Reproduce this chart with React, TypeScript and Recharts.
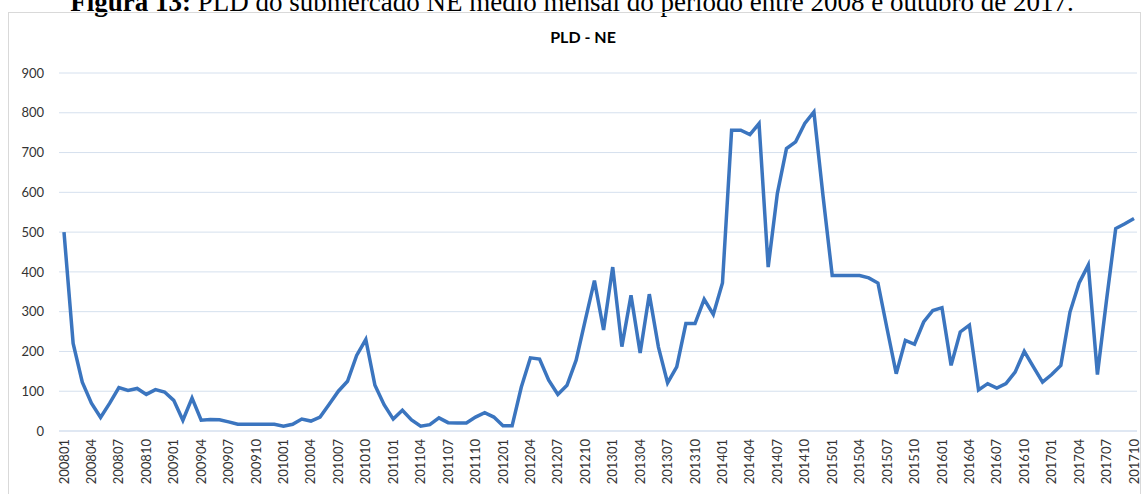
import React from "react";
import { LineChart, Line, XAxis, YAxis, CartesianGrid } from "recharts";

// meses de 200801 até 201710
const years = [2008, 2009, 2010, 2011, 2012, 2013, 2014, 2015, 2016, 2017];
const months = ["01", "02", "03", "04", "05", "06", "07", "08", "09", "10", "11", "12"];

// PLD NE médio mensal (R$/MWh)
const pldNE = [
    500, 220, 123, 70, 34, 70, 109, 102, 107, 92, 104, 98,
    77, 27, 83, 27, 29, 28, 23, 17, 17, 17, 17, 17,
    12, 17, 30, 25, 35, 67, 100, 125, 190, 230, 115, 66,
    30, 52, 28, 12, 16, 33, 21, 20, 20, 35, 46, 35,
    13, 13, 110, 184, 181, 128, 92, 115, 178, 279, 378, 254,
    412, 212, 341, 196, 344, 211, 121, 161, 270, 270, 331, 293,
    372, 756, 756, 745, 773, 412, 597, 710, 727, 773, 802, 590,
    391, 391, 391, 391, 385, 372, 257, 144, 228, 218, 274, 303,
    310, 165, 249, 266, 103, 119, 108, 119, 148, 200, 161, 123,
    142, 165, 299, 372, 417, 142, 330, 509, 521, 534,
];

const yTicks = [0, 100, 200, 300, 400, 500, 600, 700, 800, 900];

const categories: string[] = [];
years.forEach((y) => months.forEach((m) => categories.push(`${y}${m}`)));

const data = pldNE.map((value, i) => ({ mes: categories[i], value }));

const FONT = "Lato, 'Open Sans', sans-serif";

const MonthTick = ({ x, y, payload }: any) => (
    <g transform={`translate(${x},${y})`}>
        <text
            transform="rotate(-90)"
            textAnchor="end"
            dy="0.35em"
            fill="#333"
            fontSize={13}
            fontFamily={FONT}
        >
            {payload.value}
        </text>
    </g>
);

const App = () => {
    return (
        <div
            style={{
                position: "absolute",
                left: 0,
                top: 0,
                width: 1144,
                height: 494,
                overflow: "hidden",
                background: "#fff",
            }}
        >
            {/* legenda da figura, cortada no topo como no original */}
            <div
                style={{
                    position: "absolute",
                    top: -11,
                    left: 0,
                    width: 1144,
                    textAlign: "center",
                    fontFamily: "'Liberation Serif', serif",
                    fontSize: 27,
                    lineHeight: "27px",
                    whiteSpace: "nowrap",
                    color: "#000",
                }}
            >
                <b>Figura 13:</b> PLD do submercado NE médio mensal do período entre 2008 e outubro de 2017.
            </div>
            <div
                style={{
                    position: "absolute",
                    left: 8,
                    top: 12,
                    width: 1131,
                    height: 490,
                    border: "1px solid #d9d9d9",
                }}
            />
            <div
                style={{
                    position: "absolute",
                    left: 483,
                    top: 27,
                    width: 200,
                    textAlign: "center",
                    fontFamily: FONT,
                    fontWeight: "bold",
                    fontSize: 16,
                    color: "#000",
                }}
            >
                PLD - NE
            </div>
            <div style={{ position: "absolute", left: 0, top: 0 }}>
                <LineChart
                    width={1144}
                    height={494}
                    data={data}
                    margin={{ top: 73, right: 7, bottom: 0, left: 0 }}
                >
                    <CartesianGrid vertical={false} stroke="#d5e0ee" strokeWidth={1} />
                    <XAxis
                        dataKey="mes"
                        interval={2}
                        height={63}
                        padding={{ left: 5, right: 3 }}
                        axisLine={{ stroke: "#d5e0ee" }}
                        tickLine={false}
                        tickSize={6}
                        tickMargin={2}
                        tick={<MonthTick />}
                    />
                    <YAxis
                        width={59}
                        domain={[0, 900]}
                        ticks={yTicks}
                        axisLine={false}
                        tickLine={false}
                        tickSize={6}
                        tickMargin={9}
                        tick={{ fill: "#333", fontSize: 13, fontFamily: FONT }}
                    />
                    <Line
                        type="linear"
                        dataKey="value"
                        stroke="#3b75bf"
                        strokeWidth={3.5}
                        dot={false}
                        isAnimationActive={false}
                    />
                </LineChart>
            </div>
        </div>
    );
};

export default App;
